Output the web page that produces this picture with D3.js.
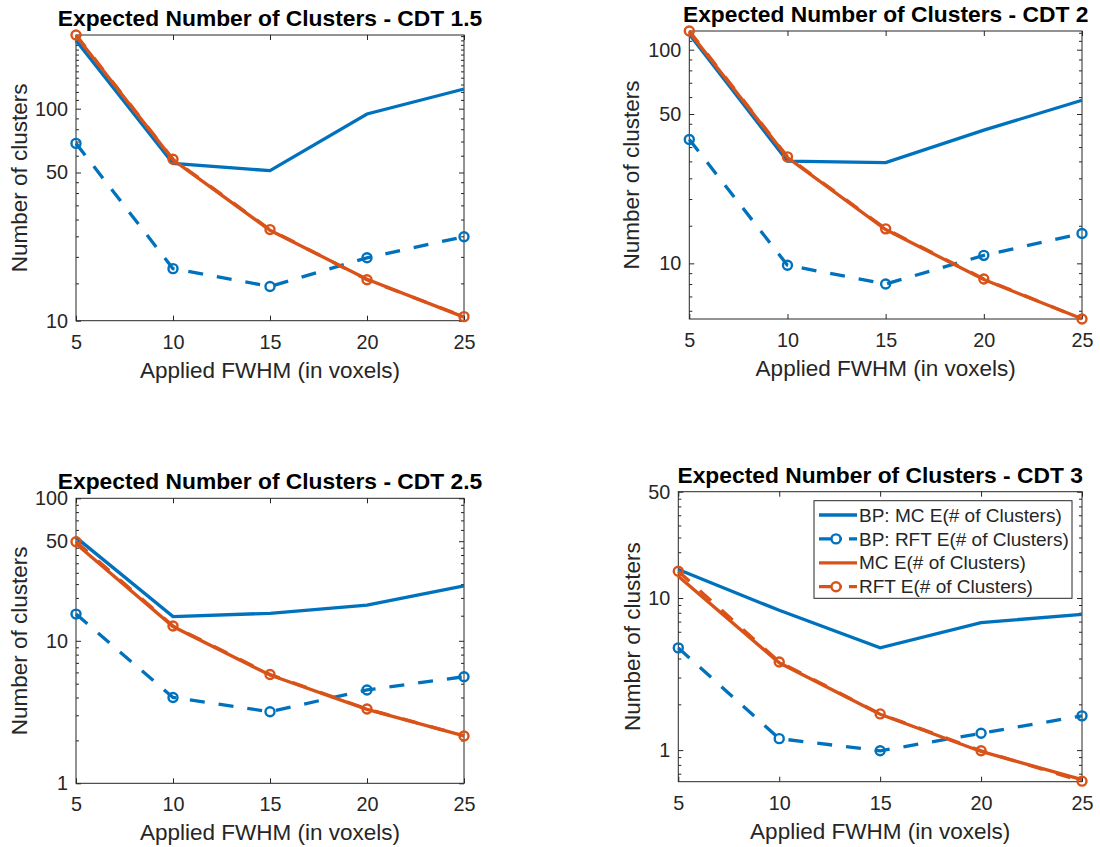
<!DOCTYPE html>
<html>
<head>
<meta charset="utf-8">
<script src="https://cdn.jsdelivr.net/npm/d3@7"></script>
<style>
body { margin: 0; background: #fff; }
svg { display: block; font-family: "Liberation Sans", Arial, Helvetica, sans-serif; }
</style>
</head>
<body>
<svg id="chart" width="1100" height="847"></svg>
<script>
// x axis: applied smoothing
const fwhm = [5, 10, 15, 20, 25]

// CDT 1.5
const bpMC_15 = [210, 55.2, 51.0, 94.4, 123.8]
const bpRFT_15 = [68.6, 17.6, 14.5, 19.8, 24.9]
const mc_15 = [221, 57.4, 26.7, 15.7, 10.4]
const rft_15 = [222.6, 57.7, 26.9, 15.6, 10.45]

// CDT 2
const bpMC_2 = [118, 30.1, 29.6, 42.0, 58.0]
const bpRFT_2 = [38.0, 9.8, 8.0, 10.9, 13.8]
const mc_2 = [121, 31.3, 14.4, 8.4, 5.5]
const rft_2 = [122.3, 31.5, 14.5, 8.45, 5.49]

// CDT 2.5
const bpMC_25 = [53.2, 14.8, 15.6, 17.8, 24.3]
const bpRFT_25 = [15.4, 4.0, 3.18, 4.52, 5.6]
const mc_25 = [48.0, 12.6, 5.75, 3.3, 2.15]
const rft_25 = [49.6, 12.7, 5.8, 3.32, 2.15]

// CDT 3
const bpMC_3 = [15.4, 8.3, 4.7, 6.9, 7.8]
const bpRFT_3 = [4.7, 1.19, 0.99, 1.29, 1.68]
const mc_3 = [13.9, 3.75, 1.72, 0.98, 0.64]
const rft_3 = [15.0, 3.8, 1.73, 0.99, 0.625]

const cdtLabels = ['1.5', '2', '2.5', '3']
const yLimits = [[10, 222.6], [5.49, 122.3], [1, 100], [0.62, 50]]
const yMajors = [[10, 50, 100], [10, 50, 100], [1, 10, 50, 100], [1, 10, 50]]
const xTicks = [5, 10, 15, 20, 25]
const seriesNames = ['BP: MC E(# of Clusters)', 'BP: RFT E(# of Clusters)', 'MC E(# of Clusters)', 'RFT E(# of Clusters)']

const panelData = [
    [bpMC_15, bpRFT_15, mc_15, rft_15],
    [bpMC_2, bpRFT_2, mc_2, rft_2],
    [bpMC_25, bpRFT_25, mc_25, rft_25],
    [bpMC_3, bpRFT_3, mc_3, rft_3]
]

// axes boxes in page pixels
const boxes = [
    {left: 76, right: 464, top: 35, bottom: 320.7, ylab: 49},
    {left: 689.3, right: 1082, top: 31, bottom: 319, ylab: 50},
    {left: 76, right: 464, top: 498.3, bottom: 783.3, ylab: 49},
    {left: 678.3, right: 1082, top: 491.7, bottom: 781.7, ylab: 38}
]

const BLUE = '#0072BD'
const RED = '#D95319'
const INK = '#262626'
const styles = [
    {color: BLUE, dash: null, marker: false},
    {color: BLUE, dash: '15,14', marker: true},
    {color: RED, dash: null, marker: false},
    {color: RED, dash: '15,14', marker: true}
]

const svg = d3.select('#chart')

function minorTicks(lim, majors) {
    let out = []
    for (let i = 0; i < majors.length - 1; i++) {
        let a = majors[i], b = majors[i + 1], r = b / a
        let step = r >= 10 ? a : r >= 5 ? a / 2 : a / 5
        for (let k = 1; a + k * step < b - step / 2; k++) out.push(a + k * step)
    }
    let lo = majors[0], hi = majors[majors.length - 1]
    for (let k = 1; lo - k * lo / 10 >= lim[0] - 1e-9 && k < 10; k++) out.push(lo - k * lo / 10)
    for (let k = 1; hi + k * hi / 10 <= lim[1] + 1e-9; k++) out.push(hi + k * hi / 10)
    return out
}

function styleAxis(g) {
    g.attr('color', INK).attr('font-family', null).attr('font-size', null)
    g.select('.domain').remove()
    g.selectAll('line').attr('stroke-width', 1)
    g.selectAll('text').attr('fill', INK).style('font-size', '19.8px')
}

function drawPanel(i) {
    const b = boxes[i]
    const x = d3.scaleLinear().domain([5, 25]).range([b.left, b.right])
    const y = d3.scaleLog().domain(yLimits[i]).range([b.bottom, b.top])
    const g = svg.append('g')
    const minors = minorTicks(yLimits[i], yMajors[i])

    // ticks (inward, on all four sides)
    g.append('g').attr('transform', `translate(${b.left},0)`)
        .call(d3.axisLeft(y).tickValues(minors).tickSize(-3).tickFormat('')).call(styleAxis)
    g.append('g').attr('transform', `translate(${b.right},0)`)
        .call(d3.axisRight(y).tickValues(minors).tickSize(-3).tickFormat('')).call(styleAxis)
    g.append('g').attr('transform', `translate(${b.left},0)`)
        .call(d3.axisLeft(y).tickValues(yMajors[i]).tickSize(-5).tickPadding(8).tickFormat(d3.format('~g'))).call(styleAxis)
    g.append('g').attr('transform', `translate(${b.right},0)`)
        .call(d3.axisRight(y).tickValues(yMajors[i]).tickSize(-5).tickFormat('')).call(styleAxis)
    g.append('g').attr('transform', `translate(0,${b.bottom})`)
        .call(d3.axisBottom(x).tickValues(xTicks).tickSize(-5).tickPadding(14)).call(styleAxis)
    g.append('g').attr('transform', `translate(0,${b.top})`)
        .call(d3.axisTop(x).tickValues(xTicks).tickSize(-5).tickFormat('')).call(styleAxis)

    g.append('rect')
        .attr('x', b.left).attr('y', b.top)
        .attr('width', b.right - b.left).attr('height', b.bottom - b.top)
        .attr('fill', 'none').attr('stroke', INK).attr('stroke-width', 1)

    // series
    const line = d3.line().x((d, j) => x(fwhm[j])).y(d => y(d))
    panelData[i].forEach((vals, s) => {
        const st = styles[s]
        g.append('path')
            .attr('d', line(vals))
            .attr('fill', 'none')
            .attr('stroke', st.color)
            .attr('stroke-width', 3.3)
            .attr('stroke-dasharray', st.dash)
        if (st.marker) {
            g.selectAll(null).data(vals).enter().append('circle')
                .attr('cx', (d, j) => x(fwhm[j]))
                .attr('cy', d => y(d))
                .attr('r', 4.5)
                .attr('fill', 'none')
                .attr('stroke', st.color)
                .attr('stroke-width', 2.4)
        }
    })

    // texts
    g.append('text')
        .attr('x', (b.left + b.right) / 2).attr('y', b.top - 9)
        .attr('text-anchor', 'middle')
        .style('font-size', '22.8px').style('font-weight', 'bold')
        .attr('fill', '#000')
        .text('Expected Number of Clusters - CDT ' + cdtLabels[i])
    g.append('text')
        .attr('x', (b.left + b.right) / 2).attr('y', b.bottom + 57)
        .attr('text-anchor', 'middle')
        .style('font-size', '22.5px').attr('fill', INK)
        .text('Applied FWHM (in voxels)')
    g.append('text')
        .attr('transform', `translate(${b.left - b.ylab},${(b.top + b.bottom) / 2}) rotate(-90)`)
        .attr('text-anchor', 'middle')
        .style('font-size', '22.5px').attr('fill', INK)
        .text('Number of clusters')
}

function drawLegend() {
    const lx = 814, ly = 500.7, lw = 258, lh = 97.6
    const g = svg.append('g')
    g.append('rect')
        .attr('x', lx).attr('y', ly).attr('width', lw).attr('height', lh)
        .attr('fill', '#fff').attr('stroke', INK).attr('stroke-width', 1)
    seriesNames.forEach((name, s) => {
        const st = styles[s]
        const cy = ly + 14.3 + s * 23.9
        g.append('line')
            .attr('x1', lx + 5).attr('x2', lx + 43).attr('y1', cy).attr('y2', cy)
            .attr('stroke', st.color).attr('stroke-width', 3.3)
            .attr('stroke-dasharray', st.dash ? '23,7' : null)
        if (st.marker) {
            g.append('circle').attr('cx', lx + 22).attr('cy', cy).attr('r', 4.5)
                .attr('fill', '#fff').attr('stroke', st.color).attr('stroke-width', 2.4)
        }
        g.append('text')
            .attr('x', lx + 45).attr('y', cy).attr('dy', '0.35em')
            .style('font-size', '19px').attr('fill', INK)
            .text(name)
    })
}

for (let i = 0; i < 4; i++) drawPanel(i)
drawLegend()
</script>
</body>
</html>
